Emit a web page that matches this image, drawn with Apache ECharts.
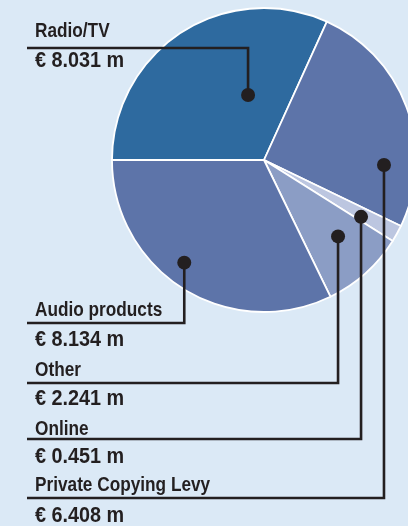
<!DOCTYPE html>
<html>
<head>
<meta charset="utf-8">
<script src="https://cdn.jsdelivr.net/npm/echarts@6/dist/echarts.min.js"></script>
<style>
html,body{margin:0;padding:0;background:#dbe9f6;}
#c{width:408px;height:526px;}
</style>
</head>
<body>
<div id="c"></div>
<script>
// ---- data (in drawing order, clockwise from 9 o'clock) ----
var categories = ['Radio/TV', 'Private Copying Levy', 'Online', 'Other', 'Audio products'];
var values = [8.031, 6.408, 0.451, 2.241, 8.134];

// ---- styling / layout ----
var colors = ['#2e6a9f', '#5d74a9', '#bcc6e0', '#8b9dc5', '#5d74a9'];
var CX = 264, CY = 160, R = 152;
// anchor of each dot inside its slice: fraction of sweep, fraction of radius
var anchorFrac = [0.666, 0.744, 0.72, 0.43, 0.55];
var anchorRad = [0.44, 0.79, 0.74, 0.70, 0.855];
// leader line heights and text rows
var lineY = [48, 498, 439, 383, 323];
var nameY = [31.5, 485.5, 429, 370, 310];
var valueY = [60.5, 515.5, 457, 398.5, 339.5];
var LINE_X0 = 27, TEXT_X = 35;
var INK = '#231f20';
var NAME_FONT = 'bold 21px "Liberation Sans", Arial, sans-serif';
var VALUE_FONT = 'bold 22px "Liberation Sans", Arial, sans-serif';
var NAME_SX = 0.82, VALUE_SX = 0.9;

var chart = echarts.init(document.getElementById('c'));
var total = values.reduce(function (a, b) { return a + b; }, 0);

var graphics = [];
var acc = 0;
values.forEach(function (v, i) {
  var span = v / total * 360;
  var a = (acc + anchorFrac[i] * span) * Math.PI / 180;
  acc += span;
  var r = anchorRad[i] * R;
  var dx = CX - r * Math.cos(a);
  var dy = CY - r * Math.sin(a);
  graphics.push({
    type: 'polyline', z: 100, silent: true,
    shape: { points: [[LINE_X0, lineY[i]], [dx, lineY[i]], [dx, dy]] },
    style: { stroke: INK, lineWidth: 2.6, fill: null }
  });
  graphics.push({
    type: 'circle', z: 101, silent: true,
    shape: { cx: dx, cy: dy, r: 7 },
    style: { fill: INK }
  });
  graphics.push({
    type: 'text', z: 101, silent: true, x: TEXT_X, y: nameY[i], scaleX: NAME_SX,
    style: { text: categories[i], font: NAME_FONT, fill: INK, textAlign: 'left', textVerticalAlign: 'middle' }
  });
  graphics.push({
    type: 'text', z: 101, silent: true, x: TEXT_X, y: valueY[i], scaleX: VALUE_SX,
    style: { text: '€ ' + v.toFixed(3) + ' m', font: VALUE_FONT, fill: INK, textAlign: 'left', textVerticalAlign: 'middle' }
  });
});

chart.setOption({
  backgroundColor: '#dbe9f6',
  animation: false,
  series: [{
    type: 'pie',
    center: [CX, CY],
    radius: R,
    startAngle: 180,
    clockwise: true,
    avoidLabelOverlap: false,
    label: { show: false },
    labelLine: { show: false },
    emphasis: { disabled: true },
    itemStyle: { borderColor: '#ffffff', borderWidth: 1.8 },
    data: categories.map(function (c, i) {
      return { name: c, value: values[i], itemStyle: { color: colors[i] } };
    })
  }],
  graphic: graphics
});
</script>
</body>
</html>
